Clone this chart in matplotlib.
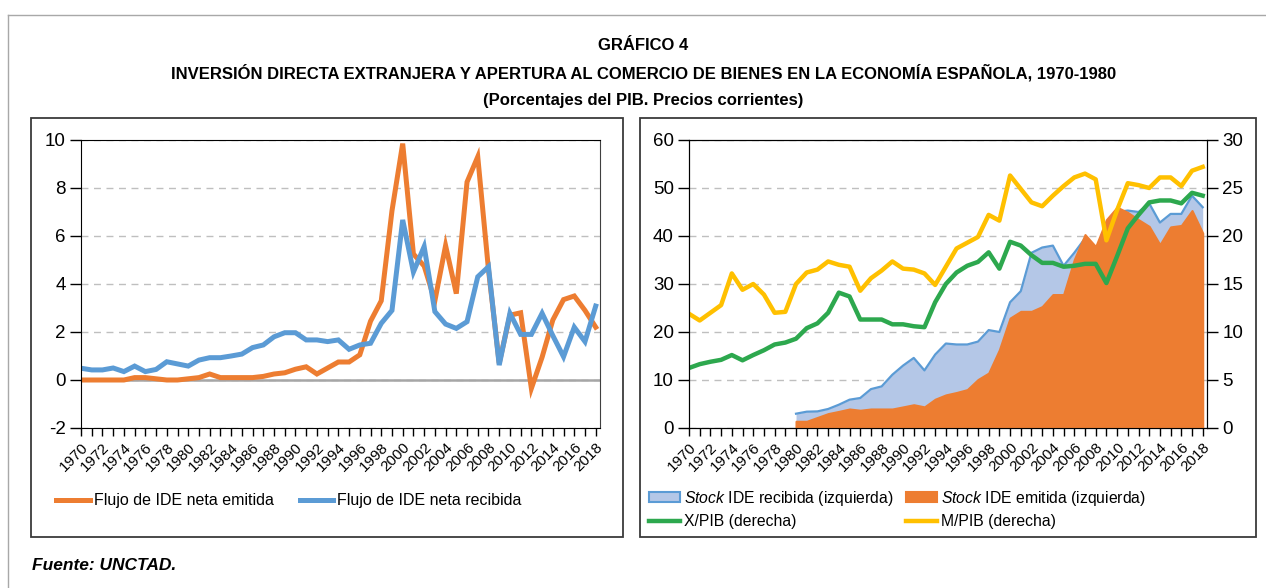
import numpy as np
import matplotlib.pyplot as plt
from matplotlib.patches import Rectangle, Patch
from matplotlib.lines import Line2D

plt.rcParams['font.family'] = ['Liberation Sans', 'DejaVu Sans']
plt.rcParams['axes.unicode_minus'] = False
plt.rcParams['mathtext.fontset'] = 'custom'
plt.rcParams['mathtext.rm'] = 'Liberation Sans'
plt.rcParams['mathtext.it'] = 'Liberation Sans:italic'

years = np.arange(1970, 2019)
years_stock = np.arange(1980, 2019)

# Flujos de IDE (% PIB)
ide_emitida = [0.0, 0.0, 0.0, 0.0, 0.0, 0.1, 0.1, 0.05, 0.0, 0.0,
               0.05, 0.1, 0.25, 0.1, 0.1, 0.1, 0.1, 0.15, 0.25, 0.3,
               0.45, 0.55, 0.25, 0.5, 0.75, 0.75, 1.05, 2.45, 3.3, 7.05,
               9.85, 5.25, 4.75, 3.3, 5.6, 3.6, 8.25, 9.3, 4.6, 0.7,
               2.7, 2.8, -0.35, 0.95, 2.5, 3.35, 3.5, 2.9, 2.2]
ide_recibida = [0.49, 0.42, 0.42, 0.5, 0.35, 0.58, 0.35, 0.44, 0.76, 0.67,
                0.58, 0.83, 0.93, 0.93, 1.0, 1.08, 1.35, 1.46, 1.8, 1.97,
                1.97, 1.67, 1.67, 1.6, 1.67, 1.28, 1.46, 1.53, 2.36, 2.9,
                6.67, 4.5, 5.56, 2.85, 2.33, 2.15, 2.43, 4.3, 4.72, 0.62,
                2.78, 1.9, 1.9, 2.78, 1.85, 0.97, 2.2, 1.6, 3.08]

# Stocks (izquierda) desde 1980
stock_recibida = [2.98, 3.4, 3.46, 3.96, 4.85, 5.9, 6.25, 8.1, 8.67, 11.1,
                  13.0, 14.6, 12.0, 15.3, 17.6, 17.4, 17.4, 18.0, 20.4, 20.0,
                  26.2, 28.5, 36.5, 37.6, 38.0, 33.8, 36.5, 39.5, 37.0, 42.5,
                  45.0, 45.3, 45.0, 46.8, 42.8, 44.6, 44.6, 48.4, 46.0]
stock_emitida = [1.4, 1.4, 2.2, 3.0, 3.46, 3.96, 3.7, 3.96, 3.96, 3.96,
                 4.4, 4.85, 4.4, 6.0, 6.9, 7.4, 8.0, 10.1, 11.45, 16.3,
                 22.9, 24.3, 24.3, 25.3, 27.8, 27.8, 35.1, 40.3, 37.8, 43.4,
                 46.0, 44.9, 43.4, 42.0, 38.2, 41.9, 42.2, 45.3, 40.6]

# Apertura comercial (derecha)
x_pib = [6.25, 6.65, 6.9, 7.1, 7.6, 7.05, 7.6, 8.1, 8.7, 8.9,
         9.3, 10.4, 10.9, 12.0, 14.1, 13.7, 11.3, 11.3, 11.3, 10.8,
         10.8, 10.6, 10.5, 13.1, 15.0, 16.2, 16.9, 17.3, 18.3, 16.6,
         19.4, 19.0, 18.0, 17.2, 17.2, 16.8, 16.9, 17.1, 17.1, 15.1,
         17.9, 20.8, 22.2, 23.5, 23.7, 23.7, 23.4, 24.5, 24.2]
m_pib = [11.9, 11.2, 12.0, 12.8, 16.1, 14.4, 15.0, 13.9, 12.0, 12.1,
         15.0, 16.2, 16.5, 17.35, 17.0, 16.8, 14.3, 15.6, 16.4, 17.35,
         16.6, 16.5, 16.1, 14.9, 16.8, 18.7, 19.3, 19.9, 22.2, 21.6,
         26.3, 24.9, 23.5, 23.1, 24.2, 25.2, 26.1, 26.5, 25.9, 19.55,
         22.7, 25.5, 25.3, 25.0, 26.1, 26.1, 25.2, 26.8, 27.2]

ORANGE = '#ED7D31'
BLUE = '#5B9BD5'
LIGHTBLUE = '#B4C7E7'
GREEN = '#2DA84E'
YELLOW = '#FFC000'
GRID = '#BFBFBF'

fig = plt.figure(figsize=(12.66, 5.88), dpi=100)

# marco exterior y cajas de los paneles
fig.add_artist(Line2D([8/1266, 1], [1 - 15/588, 1 - 15/588], transform=fig.transFigure, color='#A8A8A8', lw=1))
fig.add_artist(Line2D([8/1266, 8/1266], [0, 1 - 15/588], transform=fig.transFigure, color='#A8A8A8', lw=1))
fig.add_artist(Rectangle((31/1266, 1 - 537/588), 592/1266, 419/588, transform=fig.transFigure,
                         fill=False, ec='#3A3A3A', lw=1.3))
fig.add_artist(Rectangle((640/1266, 1 - 537/588), 616/1266, 419/588, transform=fig.transFigure,
                         fill=False, ec='#3A3A3A', lw=1.3))

fig.text(0.508, 1 - 45/588, 'GRÁFICO 4', ha='center', va='center', fontsize=12, fontweight='bold')
fig.text(0.508, 1 - 73/588, 'INVERSIÓN DIRECTA EXTRANJERA Y APERTURA AL COMERCIO DE BIENES EN LA ECONOMÍA ESPAÑOLA, 1970-1980',
         ha='center', va='center', fontsize=12, fontweight='bold')
fig.text(0.508, 1 - 100/588, '(Porcentajes del PIB. Precios corrientes)', ha='center', va='center',
         fontsize=12, fontweight='bold')
fig.text(32/1266, 1 - 566/588, 'Fuente: UNCTAD.', ha='left', va='center', fontsize=12.5,
         fontweight='bold', fontstyle='italic')


def style_xaxis(ax):
    ax.set_xlim(1970, 2018.4)
    ax.set_xticks(np.arange(1970, 2019, 2))
    ax.set_xticks(np.arange(1970, 2019, 1), minor=True)
    ax.set_xticklabels([str(y) for y in range(1970, 2019, 2)], rotation=45, ha='right',
                       rotation_mode='anchor', fontsize=11)
    ax.tick_params(axis='x', which='both', direction='out', length=6, width=1, color='black', pad=3)


# Panel izquierdo
ax1 = fig.add_axes([81/1266, 1 - 428/588, 519/1266, 288/588])
ax1.set_ylim(-2, 10)
ax1.set_yticks(np.arange(-2, 11, 2))
ax1.tick_params(axis='y', direction='out', length=8, width=1, labelsize=13.5, pad=3)
ax1.grid(axis='y', ls=(0, (5, 4)), color=GRID, lw=1)
ax1.set_axisbelow(True)
ax1.axhline(0, color='#A6A6A6', lw=1.8, zorder=1)
style_xaxis(ax1)
for s in ['left', 'bottom', 'top']:
    ax1.spines[s].set_color('black')
ax1.spines['right'].set_color('#404040')
l_em, = ax1.plot(years, ide_emitida, color=ORANGE, lw=3.6, solid_joinstyle='miter', label='Flujo de IDE neta emitida')
l_re, = ax1.plot(years, ide_recibida, color=BLUE, lw=3.6, solid_joinstyle='miter', label='Flujo de IDE neta recibida')
fig.legend(handles=[l_em, l_re], loc='center left', bbox_to_anchor=(56/1266, 1 - 501/588), ncol=2,
           frameon=False, fontsize=11.5, handlelength=2.1, handletextpad=0.25, columnspacing=1.65,
           borderpad=0, borderaxespad=0)

# Panel derecho
ax2 = fig.add_axes([689/1266, 1 - 428/588, 518/1266, 288/588])
ax2.set_ylim(0, 60)
ax2.set_yticks(np.arange(0, 61, 10))
ax2.tick_params(axis='y', direction='out', length=8, width=1, labelsize=13.5, pad=3)
ax2.grid(axis='y', ls=(0, (5, 4)), color=GRID, lw=1)
ax2.set_axisbelow(True)
style_xaxis(ax2)
ax2.fill_between(years_stock, 0, stock_recibida, color=LIGHTBLUE, lw=0, zorder=2)
ax2.plot(years_stock, stock_recibida, color=BLUE, lw=1.6, zorder=3)
ax2.fill_between(years_stock, 0, stock_emitida, color=ORANGE, ec=ORANGE, lw=1.5, zorder=4)

ax2r = ax2.twinx()
ax2r.set_ylim(0, 30)
ax2r.set_yticks(np.arange(0, 31, 5))
ax2r.tick_params(axis='y', direction='out', length=8, width=1, labelsize=13.5, pad=3)
ax2r.plot(years, x_pib, color=GREEN, lw=3.2)
ax2r.plot(years, m_pib, color=YELLOW, lw=3.2)

h_rec = Patch(facecolor=LIGHTBLUE, edgecolor=BLUE, lw=1.5, label=r'$\it{Stock}$ IDE recibida (izquierda)')
h_emi = Patch(facecolor=ORANGE, edgecolor=ORANGE, lw=1.5, label=r'$\it{Stock}$ IDE emitida (izquierda)')
h_x = Line2D([], [], color=GREEN, lw=3.2, label='X/PIB (derecha)')
h_m = Line2D([], [], color=YELLOW, lw=3.2, label='M/PIB (derecha)')
fig.legend(handles=[h_rec, h_x, h_emi, h_m], loc='upper left', bbox_to_anchor=(649/1266, 1 - 489/588), ncol=2,
           frameon=False, fontsize=11.3, handlelength=2.0, handleheight=0.6, handletextpad=0.25,
           columnspacing=0.75, labelspacing=0.4, borderpad=0, borderaxespad=0)

fig.savefig('out.png', dpi=100)
